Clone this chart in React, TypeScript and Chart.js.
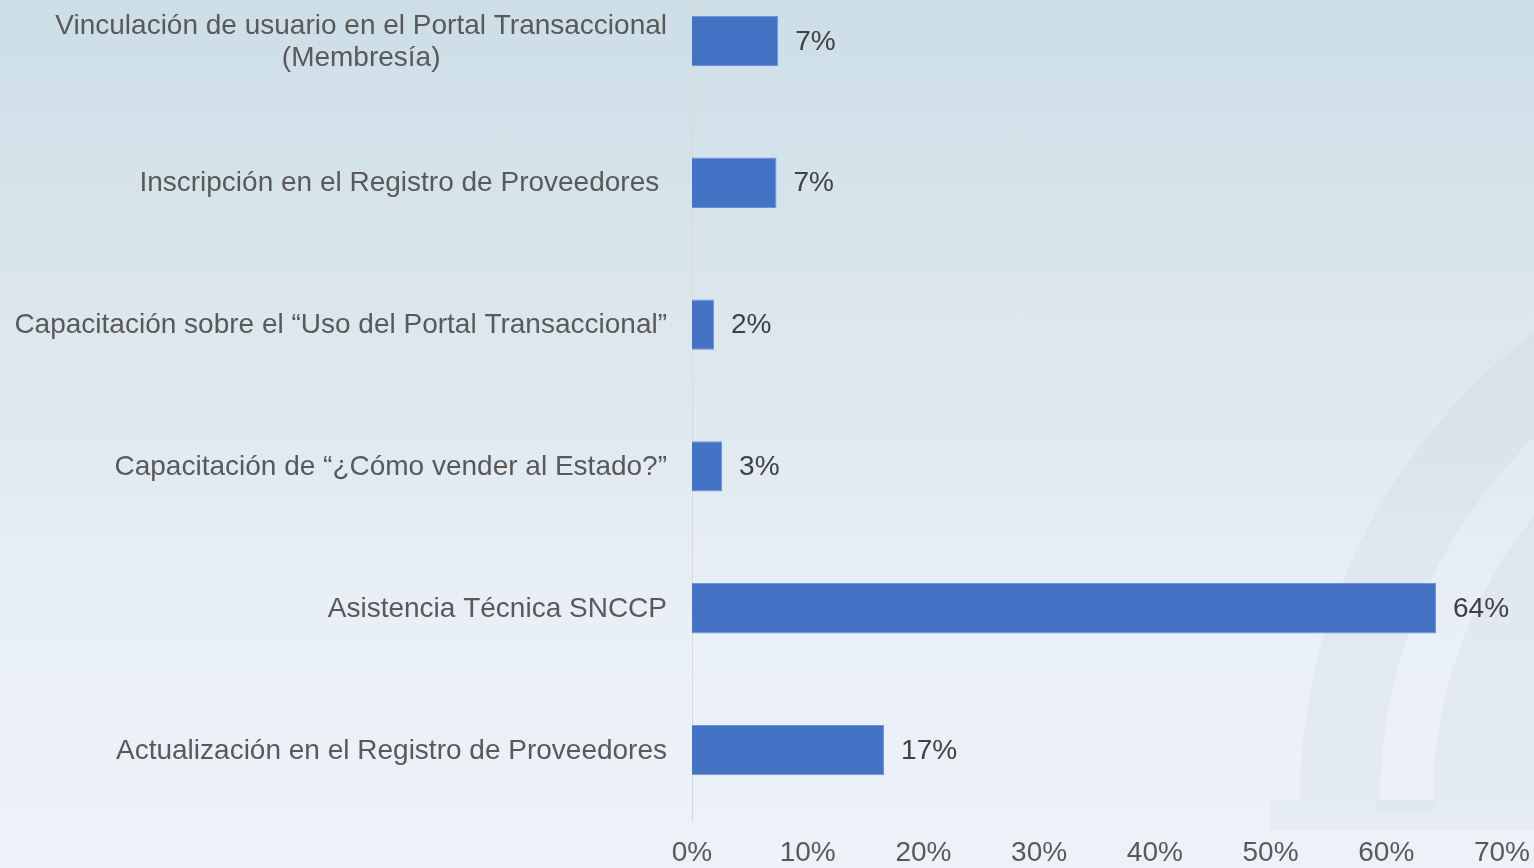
import React, { useEffect, useRef } from "react";
import { Chart, registerables } from "chart.js";

Chart.register(...registerables);

const categories: string[][] = [
  ["Vinculación de usuario en el Portal Transaccional", "(Membresía)"],
  ["Inscripción en el Registro de Proveedores "],
  ["Capacitación sobre el “Uso del Portal Transaccional”"],
  ["Capacitación de “¿Cómo vender al Estado?”"],
  ["Asistencia Técnica SNCCP"],
  ["Actualización en el Registro de Proveedores"],
];
const values: number[] = [7.45, 7.3, 1.9, 2.6, 64.3, 16.6];
const xTicks: number[] = [0, 10, 20, 30, 40, 50, 60, 70];

const FONT = "'Liberation Sans', Arial, sans-serif";

const watermark = {
  id: "watermark",
  beforeDraw(chart: any) {
    const ctx = chart.ctx;
    ctx.save();
    const cx = 1883;
    const cy = 830;
    const band = (rOut: number, rIn: number, color: string) => {
      ctx.beginPath();
      ctx.arc(cx, cy, rOut, Math.PI, Math.PI * 1.5);
      ctx.arc(cx, cy, rIn, Math.PI * 1.5, Math.PI, true);
      ctx.closePath();
      ctx.fillStyle = color;
      ctx.fill();
    };
    band(583, 503, "rgba(185,202,216,0.16)");
    band(450, 300, "rgba(185,202,216,0.16)");
    ctx.fillStyle = "rgba(185,202,216,0.13)";
    ctx.fillRect(1270, 830, 264, 30);
    ctx.fillRect(1376, 830, 60, 10);
    ctx.restore();
  },
};

const labelsPlugin = {
  id: "customLabels",
  afterDraw(chart: any) {
    const ctx = chart.ctx;
    const yScale = chart.scales.y;
    const area = chart.chartArea;
    ctx.save();
    ctx.font = `28px ${FONT}`;
    ctx.textBaseline = "middle";
    ctx.textAlign = "center";
    ctx.fillStyle = "#595959";
    const right = area.left - 25;
    const lineH = 32;
    categories.forEach((lines, i) => {
      const yc = yScale.getPixelForValue(i);
      const maxW = Math.max(...lines.map((l) => ctx.measureText(l).width));
      const cxm = right - maxW / 2;
      const y0 = yc - ((lines.length - 1) * lineH) / 2;
      lines.forEach((l, j) => ctx.fillText(l, cxm, y0 + j * lineH + 1));
    });
    const meta = chart.getDatasetMeta(0);
    ctx.textAlign = "left";
    ctx.fillStyle = "#404040";
    meta.data.forEach((bar: any, i: number) => {
      ctx.fillText(Math.round(values[i]) + "%", bar.x + 17, bar.y + 1);
    });
    ctx.restore();
  },
};

export default function App() {
  const ref = useRef<HTMLCanvasElement>(null);
  useEffect(() => {
    if (!ref.current) return;
    const chart = new Chart(ref.current, {
      type: "bar",
      data: {
        labels: categories.map((c) => c.join(" ")),
        datasets: [
          {
            data: values,
            backgroundColor: "#4472C4",
            borderColor: "#6b93d6",
            borderWidth: 1,
            barPercentage: 0.355,
            categoryPercentage: 1,
          },
        ],
      },
      options: {
        indexAxis: "y",
        animation: false,
        responsive: false,
        maintainAspectRatio: false,
        layout: { padding: 0 },
        plugins: { legend: { display: false }, tooltip: { enabled: false } },
        scales: {
          x: {
            min: 0,
            max: 70,
            afterFit: (s: any) => {
              s.height = 47;
              s.paddingLeft = 0;
              s.paddingRight = 32;
            },
            afterBuildTicks: (s: any) => {
              s.ticks = xTicks.map((v) => ({ value: v }));
            },
            grid: { display: false, drawTicks: false },
            border: { display: false },
            ticks: {
              padding: 15,
              color: "#595959",
              font: { family: FONT, size: 28 },
              maxRotation: 0,
              callback: (v: any) => v + "%",
            },
          },
          y: {
            afterFit: (s: any) => {
              s.width = 692;
              s.paddingTop = 0;
              s.paddingBottom = 0;
            },
            grid: { display: false },
            border: { display: true, color: "#d9d9d9", width: 1 },
            ticks: { display: false },
          },
        },
      },
      plugins: [watermark, labelsPlugin],
    });
    return () => chart.destroy();
  }, []);
  return (
    <div
      style={{
        position: "fixed",
        left: 0,
        top: 0,
        width: 1534,
        height: 868,
        overflow: "hidden",
        background: "linear-gradient(180deg, #cddee7 0%, #dde7ee 40%, #eaf0f7 75%, #edf2f9 100%)",
      }}
    >
      <canvas
        ref={ref}
        width={1534}
        height={898}
        style={{ position: "absolute", left: 0, top: -30, width: 1534, height: 898 }}
      />
    </div>
  );
}
